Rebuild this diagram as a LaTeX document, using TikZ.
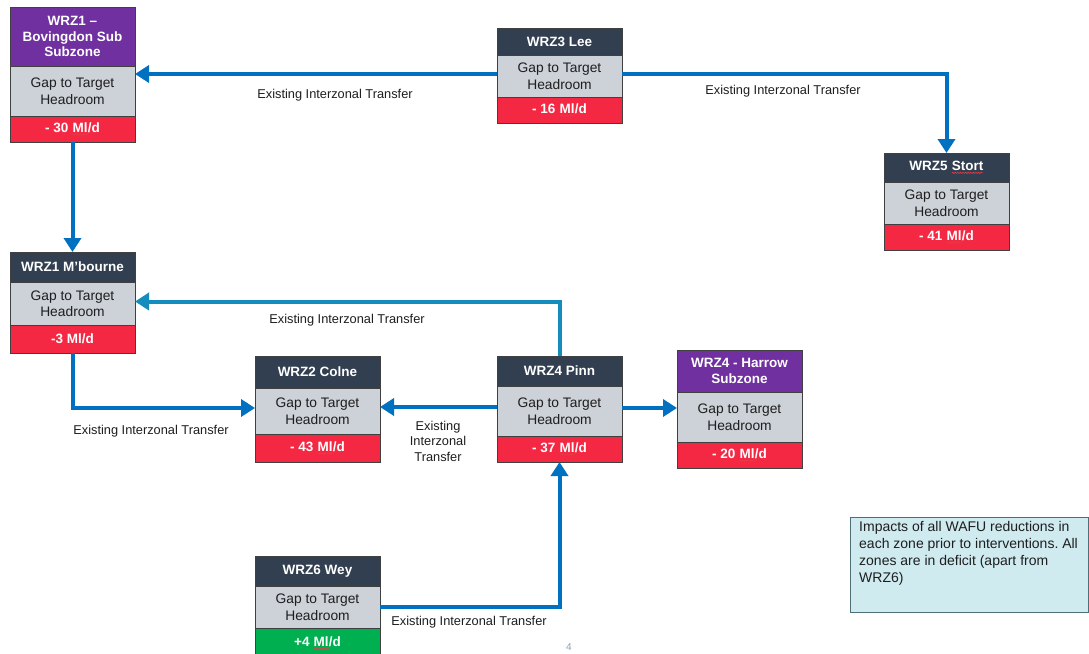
\documentclass[tikz,border=0pt]{standalone}
\usepackage{fontspec}
\setmainfont{Liberation Sans}
\usetikzlibrary{arrows.meta,calc,decorations.pathmorphing}
\frenchspacing

\definecolor{navy}{RGB}{50,63,81}
\definecolor{zpurple}{RGB}{112,48,160}
\definecolor{zgray}{RGB}{205,209,216}
\definecolor{zred}{RGB}{245,40,68}
\definecolor{zgreen}{RGB}{0,176,80}
\definecolor{boxline}{RGB}{64,64,64}
\definecolor{flowblue}{RGB}{0,112,192}
\definecolor{flowteal}{RGB}{20,140,190}
\definecolor{notefill}{RGB}{207,235,240}
\definecolor{noteline}{RGB}{80,110,120}
\definecolor{txt}{RGB}{30,30,30}
\definecolor{squig}{RGB}{230,60,70}
\definecolor{pgnum}{RGB}{140,160,185}

\tikzset{
  zbox/.style={draw=boxline, line width=0.8pt, minimum width=125pt, inner sep=0pt,
    outer sep=0pt, align=center},
  hnavy/.style={zbox, fill=navy, text=white, font=\bfseries\fontsize{13.5}{15.5}\selectfont},
  hpurple/.style={hnavy, fill=zpurple},
  gbody/.style={zbox, fill=zgray, text=txt, font=\fontsize{13.8}{16.5}\selectfont},
  vred/.style={zbox, fill=zred, text=white, font=\bfseries\fontsize{13.5}{15.5}\selectfont},
  vgreen/.style={vred, fill=zgreen},
  flow/.style={line width=4pt, draw=flowblue, -{Triangle[length=14pt,width=17pt]}},
  lbl/.style={font=\fontsize{12.8}{15.5}\selectfont, text=txt, align=center, inner sep=0pt},
}

% word with a wavy spelling underline
\newcommand\wavyword[1]{\tikz[baseline=(ww.base)]{%
  \node[draw=none, fill=none, inner sep=0pt, outer sep=0pt, minimum width=0pt,
    minimum height=0pt, anchor=center] (ww) {#1};
  \draw[squig, line width=0.6pt, decorate,
    decoration={snake, amplitude=0.6pt, segment length=2.6pt}]
    ([yshift=-2.2pt]ww.base west) -- ([yshift=-2.2pt]ww.base east);}}

% zone: name, top-left, header h, body h, value h, header style, title, value, value style
\newcommand\zonebox[9]{%
  \node[#6, minimum height=#3pt, anchor=north west] (#1-h) at #2 {#7};
  \node[gbody, minimum height=#4pt, anchor=north] (#1-g) at (#1-h.south) {Gap to Target\\Headroom};
  \node[#9, minimum height=#5pt, anchor=north] (#1-v) at (#1-g.south) {#8};
}

\begin{document}
\begin{tikzpicture}[x=1pt,y=-1pt]
\useasboundingbox[fill=white] (0,0) rectangle (1089,653);

\zonebox{bov}{(10,7)}{59}{50}{26}{hpurple}{WRZ1 –\\Bovingdon Sub\\Subzone}{- 30 \wavyword{Ml}/d}{vred}
\zonebox{lee}{(497,28)}{27}{42}{26}{hnavy}{WRZ3 Lee}{- 16 \wavyword{Ml}/d}{vred}
\zonebox{stort}{(884,153)}{29}{42}{26}{hnavy}{WRZ5 \wavyword{Stort}}{- 41 \wavyword{Ml}/d}{vred}
\zonebox{mb}{(10,252)}{30}{43}{28}{hnavy}{WRZ1 M’bourne}{-3 Ml/d}{vred}
\zonebox{colne}{(255,356)}{32}{46}{28}{hnavy}{WRZ2 Colne}{- 43 \wavyword{Ml}/d}{vred}
\zonebox{pinn}{(497,356)}{30}{50}{26}{hnavy}{WRZ4 Pinn}{- 37 \wavyword{Ml}/d}{vred}
\zonebox{harrow}{(677,350)}{42}{50}{26}{hpurple}{WRZ4 - Harrow\\Subzone}{- 20 \wavyword{Ml}/d}{vred}
\zonebox{wey}{(255,556)}{30}{42}{30}{hnavy}{WRZ6 Wey}{+4 \wavyword{Ml}/d}{vgreen}

% transfers between zones
\draw[flow] ($(lee-g.west)+(0,-2)$) -- ($(lee-g.west -| bov-g.east)+(0,-2)$);
\draw[flow] ($(lee-g.east)+(0,-2)$) -| (stort-h.north);
\draw[flow] (bov-v.south) -- (mb-h.north);
\draw[flow, draw=flowteal] (pinn-h.north) |- ($(mb-g.east)+(0,-2)$);
\draw[flow] (mb-v.south) |- ($(colne-g.west)+(0,-3)$);
\draw[flow] ($(pinn-g.west)+(0,-4)$) -- ($(pinn-g.west -| colne-g.east)+(0,-4)$);
\draw[flow] ($(pinn-g.east)+(0,-3)$) -- ($(pinn-g.east -| harrow-g.west)+(0,-3)$);
\draw[flow] (wey-g.east) -| (pinn-v.south);

% transfer labels
\node[lbl] (t1) at (335,95) {Existing Interzonal Transfer};
\node[lbl] (t2) at (783,91) {Existing Interzonal Transfer};
\node[lbl] (t3) at (347,320) {Existing Interzonal Transfer};
\node[lbl] (t4) at (151,431) {Existing Interzonal Transfer};
\node[lbl] (t5) at (438,441) {Existing\\Interzonal\\Transfer};
\node[lbl] (t6) at (469,622) {Existing Interzonal Transfer};

% note
\draw[draw=noteline, fill=notefill, line width=0.8pt] (850,517) rectangle (1088,612);
\node[anchor=north west, inner sep=0pt, align=left, text=txt,
  font=\fontsize{14}{17}\selectfont] (note) at (859,521)
  {Impacts of all WAFU reductions in\\each zone prior to interventions. All\\zones are in deficit (apart from\\WRZ6)};

% page number
\node[text=pgnum, font=\fontsize{10}{11}\selectfont] (pg) at (569,647) {4};
\end{tikzpicture}
\end{document}
